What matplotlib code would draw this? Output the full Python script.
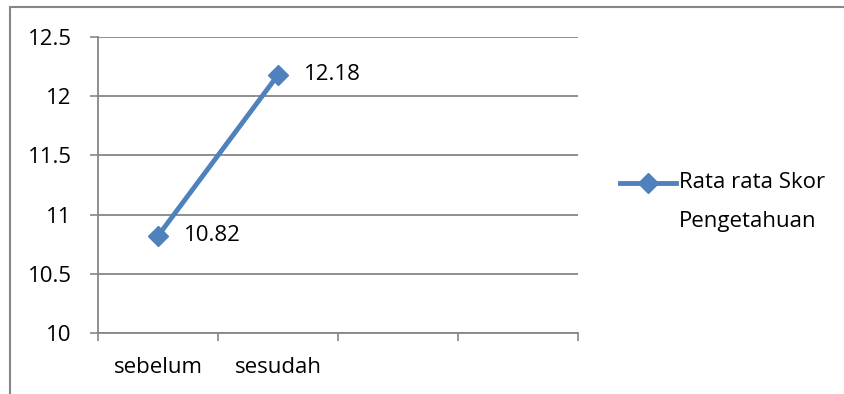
import matplotlib
matplotlib.use("Agg")
import matplotlib.pyplot as plt
from matplotlib.lines import Line2D
from matplotlib.patches import Rectangle

# --- data ---
categories = ["sebelum", "sesudah"]
values = [10.82, 12.18]
n_slots = 4
y_ticks = [10, 10.5, 11, 11.5, 12, 12.5]
y_labels = ["10", "10.5", "11", "11.5", "12", "12.5"]
series_name = ["Rata rata Skor", "Pengetahuan"]

blue = "#4F81BD"
grid = "#868686"
fs = 16
plt.rcParams["font.family"] = ["Open Sans", "DejaVu Sans"]

fig = plt.figure(figsize=(8.45, 3.94), dpi=100)
fig.patches.append(Rectangle((10 / 845, -0.1), 1.0, (394 - 7) / 394 + 0.1,
                             transform=fig.transFigure, fill=False,
                             edgecolor=grid, linewidth=1.5))

ax = fig.add_axes([98 / 845, 61 / 394, 480 / 845, 296 / 394])
x = list(range(len(categories)))
ax.plot(x, values, color=blue, linewidth=3.5, marker="D", markersize=10,
        markerfacecolor=blue, markeredgecolor=blue, zorder=3)
for xi, v in zip(x, values):
    ax.annotate(f"{v:g}", (xi, v), xytext=(19, 0), textcoords="offset points",
                va="center", ha="left", fontsize=fs, color="black")

ax.set_xlim(-0.5, n_slots - 0.5)
ax.set_ylim(y_ticks[0], y_ticks[-1])
ax.set_yticks(y_ticks)
ax.set_yticklabels(y_labels, fontsize=fs)
ax.set_xticks([i - 0.5 for i in range(n_slots + 1)])
ax.set_xticklabels([])
ax.set_xticks(x, minor=True)
ax.set_xticklabels(categories, minor=True, fontsize=fs)
ax.tick_params(axis="x", which="minor", length=0, pad=17)
ax.tick_params(axis="x", which="major", length=6, width=1.2, color=grid)
ax.tick_params(axis="y", length=6, width=1.2, color=grid, pad=13)
ax.grid(axis="y", color=grid, linewidth=1.3)
ax.set_axisbelow(True)
for s in ["top", "right"]:
    ax.spines[s].set_visible(False)
for s in ["left", "bottom"]:
    ax.spines[s].set_color(grid)
    ax.spines[s].set_linewidth(1.3)

# legend drawn by hand so the key sits on the first text line
ly = 1 - 183 / 394
fig.add_artist(Line2D([620 / 845, 676 / 845], [ly, ly], color=blue,
                      linewidth=3.5, transform=fig.transFigure))
fig.add_artist(Line2D([648 / 845], [ly], color=blue, marker="D", markersize=10,
                      transform=fig.transFigure))
for i, line in enumerate(series_name):
    fig.text(679 / 845, 1 - (183 + 39 * i) / 394, line, fontsize=fs,
             va="center", ha="left")

fig.savefig("out.png", dpi=100)
